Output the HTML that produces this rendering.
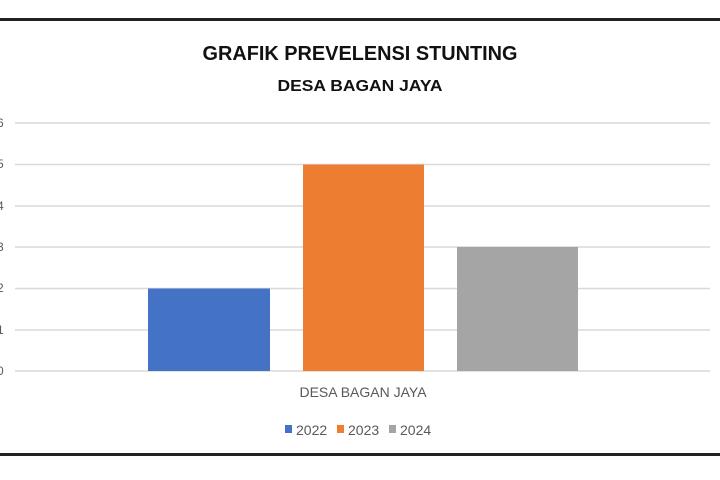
<!DOCTYPE html><html><head><style>body{margin:0;background:#fff}</style></head><body>
<svg width="720" height="475" xmlns="http://www.w3.org/2000/svg" font-family="Liberation Sans, sans-serif">
<rect width="720" height="475" fill="#fff"/>
<rect x="0" y="18" width="720" height="3" fill="#222"/>
<rect x="0" y="453" width="720" height="3" fill="#222"/>
<text x="360" y="60" text-anchor="middle" font-size="20" font-weight="bold" fill="#111" textLength="315" lengthAdjust="spacingAndGlyphs">GRAFIK PREVELENSI STUNTING</text>
<text x="360" y="91" text-anchor="middle" font-size="16" font-weight="bold" fill="#111" textLength="165" lengthAdjust="spacingAndGlyphs">DESA BAGAN JAYA</text>
<g stroke="#d9d9d9" stroke-width="1.5">
<line x1="15" y1="123" x2="710" y2="123"/><line x1="15" y1="164.5" x2="710" y2="164.5"/><line x1="15" y1="206" x2="710" y2="206"/><line x1="15" y1="247" x2="710" y2="247"/><line x1="15" y1="288.5" x2="710" y2="288.5"/><line x1="15" y1="330" x2="710" y2="330"/><line x1="15" y1="371" x2="710" y2="371"/>
</g>
<g font-size="12" fill="#595959">
<text x="-3" y="127">6</text><text x="-3" y="168">5</text><text x="-3" y="210">4</text><text x="-3" y="251">3</text><text x="-3" y="292">2</text><text x="-3" y="334">1</text><text x="-3" y="375">0</text>
</g>
<rect x="148" y="288.5" width="122" height="82.5" fill="#4472c4"/>
<rect x="303" y="164.5" width="121" height="206.5" fill="#ed7d31"/>
<rect x="457" y="247" width="121" height="124" fill="#a5a5a5"/>
<text x="363" y="397" text-anchor="middle" font-size="14" fill="#595959">DESA BAGAN JAYA</text>
<g font-size="14" fill="#595959">
<rect x="285" y="425" width="7" height="8" fill="#4472c4"/><text x="296" y="435">2022</text>
<rect x="337" y="425" width="7" height="8" fill="#ed7d31"/><text x="348" y="435">2023</text>
<rect x="389" y="425" width="7" height="8" fill="#a5a5a5"/><text x="400" y="435">2024</text>
</g>
</svg>
</body></html>
